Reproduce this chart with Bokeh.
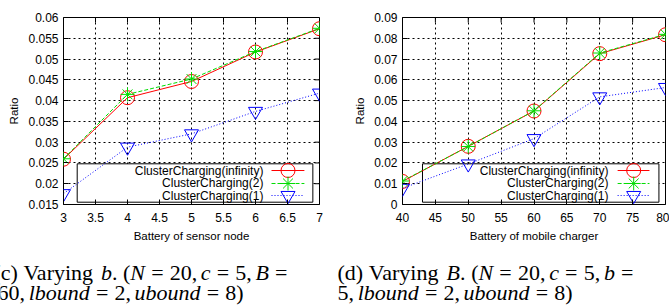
from bokeh.plotting import figure
from bokeh.layouts import row, column
from bokeh.models import Range1d, FixedTicker
from bokeh.embed import file_html
from bokeh.resources import INLINE
from bokeh.core.properties import value

# ---------------- data ----------------
series_names = ["ClusterCharging(infinity)", "ClusterCharging(2)", "ClusterCharging(1)"]

# (c) varying b (battery of sensor node)
b_sensor = [3, 4, 5, 6, 7]
ratio_inf_b = [0.0259, 0.0407, 0.0446, 0.0517, 0.0573]
ratio_2_b = [0.0260, 0.0415, 0.0452, 0.0518, 0.0574]
ratio_1_b = [0.0176, 0.0288, 0.0320, 0.0374, 0.0418]

# (d) varying B (battery of mobile charger)
B_charger = [40, 50, 60, 70, 80]
ratio_inf_B = [0.0111, 0.0280, 0.0450, 0.0726, 0.0817]
ratio_2_B = [0.0113, 0.0279, 0.0451, 0.0729, 0.0819]
ratio_1_B = [0.0078, 0.0195, 0.0317, 0.0518, 0.0563]

xticks_b = [3, 3.5, 4, 4.5, 5, 5.5, 6, 6.5, 7]
xlabels_b = ["3", "3.5", "4", "4.5", "5", "5.5", "6", "6.5", "7"]
yticks_b = [0.015, 0.02, 0.025, 0.03, 0.035, 0.04, 0.045, 0.05, 0.055, 0.06]
ylabels_b = ["0.015", "0.02", "0.025", "0.03", "0.035", "0.04", "0.045", "0.05", "0.055", "0.06"]

xticks_B = [40, 45, 50, 55, 60, 65, 70, 75, 80]
xlabels_B = ["40", "45", "50", "55", "60", "65", "70", "75", "80"]
yticks_B = [0, 0.01, 0.02, 0.03, 0.04, 0.05, 0.06, 0.07, 0.08, 0.09]
ylabels_B = ["0", "0.01", "0.02", "0.03", "0.04", "0.05", "0.06", "0.07", "0.08", "0.09"]

R, I = False, True
caption_c = [
    [[("(c)", R)], [("Varying", R)], [("b", I), (".", R)], [("(", R), ("N", I)], [("=", R)],
     [("20,", R)], [("c", I)], [("=", R)], [("5,", R)], [("B", I)], [("=", R)]],
    [[("60,", R)], [("lbound", I)], [("=", R)], [("2,", R)], [("ubound", I)], [("=", R)], [("8)", R)]],
]
caption_d = [
    [[("(d)", R)], [("Varying", R)], [("B", I), (".", R)], [("(", R), ("N", I)], [("=", R)],
     [("20,", R)], [("c", I)], [("=", R)], [("5,", R)], [("b", I)], [("=", R)]],
    [[("5,", R)], [("lbound", I)], [("=", R)], [("2,", R)], [("ubound", I)], [("=", R)], [("8)", R)]],
]
gaps_line1 = "tttmmsmmsm"
gaps_line2 = "smmsmm"

# ---------------- styling / layout ----------------
SANS = "Liberation Sans"
SERIF = "Liberation Serif"
CAP_SIZE = 22
W, H = 669, 308
TOP_H = 250
FRAME_TOP = 17
FRAME_BOTTOM = 204
FRAME_H = FRAME_BOTTOM - FRAME_TOP
TICK_LEN = 5

TIMES_R = {' ': 250, '(': 333, ')': 333, ',': 250, '.': 250, '=': 564, 'a': 444, 'c': 444,
           'd': 500, 'g': 500, 'i': 278, 'n': 500, 'r': 333, 'y': 500, 'V': 722, 'b': 500}
TIMES_I = {'b': 500, 'c': 444, 'l': 278, 'o': 500, 'u': 500, 'n': 500, 'd': 500, 'N': 667, 'B': 611}
GAP_EM = {'t': (250, 2.0), 'm': (278, 1.0), 's': (167, 0.0)}


def piece_w(txt, italic):
    tab = TIMES_I if italic else TIMES_R
    return sum(tab.get(ch, 500) for ch in txt) * CAP_SIZE / 1000.0


def caption_line(pieces, words, gaps, x_start, baseline, x_end=None):
    word_w = [sum(piece_w(t, it) for t, it in w) for w in words]
    gap_w = [GAP_EM[g][0] * CAP_SIZE / 1000.0 for g in gaps]
    weights = [GAP_EM[g][1] for g in gaps]
    natural = sum(word_w) + sum(gap_w)
    if x_end is not None and sum(weights) > 0:
        extra = max(0.0, (x_end - x_start) - natural)
        gap_w = [g + extra * wt / sum(weights) for g, wt in zip(gap_w, weights)]
    x = x_start
    for k, w in enumerate(words):
        xx = x
        for t, it in w:
            pieces[it].append((xx, baseline, t))
            xx += piece_w(t, it)
        x += word_w[k] + (gap_w[k] if k < len(gap_w) else 0)


def make_fig(xr, yr, xticks, xlabels, yticks, ylabels, xlabel, width, bl, frame_w, mirror_right):
    p = figure(width=width, height=TOP_H, x_range=Range1d(*xr), y_range=Range1d(*yr),
               output_backend="svg", toolbar_location=None, tools="",
               min_border_left=bl, min_border_right=width - bl - frame_w,
               min_border_top=FRAME_TOP, min_border_bottom=TOP_H - FRAME_BOTTOM)
    p.outline_line_color = "black"
    p.outline_line_width = 1
    p.outline_line_alpha = 1

    p.xaxis.ticker = FixedTicker(ticks=xticks)
    p.yaxis.ticker = FixedTicker(ticks=yticks)
    p.xaxis.major_label_overrides = dict(zip(xticks, xlabels))
    p.yaxis.major_label_overrides = dict(zip(yticks, ylabels))
    p.xaxis.axis_label = xlabel
    p.yaxis.axis_label = "Ratio"
    for ax in (p.xaxis[0], p.yaxis[0]):
        ax.axis_line_color = None
        ax.major_tick_in = TICK_LEN
        ax.major_tick_out = 0
        ax.major_tick_line_color = "black"
        ax.minor_tick_line_color = None
        ax.major_label_text_font = SANS
        ax.major_label_text_font_size = "12px"
        ax.major_label_text_color = "black"
        ax.axis_label_text_font = SANS
        ax.axis_label_text_font_size = "11.5px"
        ax.axis_label_text_font_style = "normal"
        ax.axis_label_text_color = "black"
        ax.axis_label_standoff = 5
    p.xaxis.major_label_standoff = 8
    p.yaxis.major_label_standoff = 5

    for g in (p.xgrid[0], p.ygrid[0]):
        g.grid_line_color = "black"
        g.grid_line_dash = "2 3"
        g.grid_line_width = 1
        g.level = "image"

    # mirrored inward ticks (top, and right when visible)
    x0, x1 = xr
    y0, y1 = yr
    dy = TICK_LEN * (y1 - y0) / FRAME_H
    p.segment(x0=xticks, x1=xticks, y0=[y1] * len(xticks), y1=[y1 - dy] * len(xticks),
              line_color="black", line_width=1)
    if mirror_right:
        dx = TICK_LEN * (x1 - x0) / frame_w
        p.segment(x0=[x1] * len(yticks), x1=[x1 - dx] * len(yticks), y0=yticks, y1=yticks,
                  line_color="black", line_width=1)
    return p


STYLES = [
    dict(color="#ff0000", dash="solid", marker="circle"),
    dict(color="#00dd00", dash="4 2", marker="asterisk"),
    dict(color="#0000ff", dash="1 2", marker="inverted_triangle"),
]


def add_series(p, xs, ys_list):
    for ys, st in zip(ys_list, STYLES):
        p.line(xs, ys, line_color=st["color"], line_dash=st["dash"], line_width=1)
        p.scatter(xs, ys, marker=st["marker"], size=14, line_color=st["color"],
                  fill_color=None, line_width=1)


def add_legend(p, xr, yr, box, text_r, samp, mark):
    x0, x1 = xr
    y0, y1 = yr
    fx = lambda f: x0 + f * (x1 - x0)
    fy = lambda f: y0 + f * (y1 - y0)
    rows = [0.1818, 0.1123, 0.0481]
    p.quad(left=[fx(box[0])], right=[fx(box[1])], bottom=[fy(0.0123)], top=[fy(0.2176)],
           fill_color="white", line_color="black", line_width=1, level="underlay")
    p.text(x=[fx(text_r)] * 3, y=[fy(r) for r in rows], text=series_names,
           text_align="right", text_baseline="middle", text_font=value(SANS),
           text_font_size="12px", text_color="black")
    for r, st in zip(rows, STYLES):
        p.segment(x0=[fx(samp[0])], x1=[fx(samp[1])], y0=[fy(r)], y1=[fy(r)],
                  line_color=st["color"], line_dash=st["dash"], line_width=1)
        p.scatter([fx(mark)], [fy(r)], marker=st["marker"], size=14, line_color=st["color"],
                  fill_color=None, line_width=1)


# left figure: frame x 63..319
p1 = make_fig((3, 7), (0.015, 0.06), xticks_b, xlabels_b, yticks_b, ylabels_b,
              "Battery of sensor node", 336, 63, 256, True)
add_series(p1, b_sensor, [ratio_inf_b, ratio_2_b, ratio_1_b])
add_legend(p1, (3, 7), (0.015, 0.06), (0.0535, 0.974), 0.781, (0.8125, 0.941), 0.877)

# right figure: frame x 402..665
p2 = make_fig((40, 80), (0, 0.09), xticks_B, xlabels_B, yticks_B, ylabels_B,
              "Battery of mobile charger", 333, 66, 263, False)
add_series(p2, B_charger, [ratio_inf_B, ratio_2_B, ratio_1_B])
add_legend(p2, (40, 80), (0, 0.09), (0.076, 0.975), 0.783, (0.818, 0.939), 0.879)

# captions strip (pixel-coordinate canvas)
p3 = figure(width=W, height=H - TOP_H, x_range=Range1d(0, W), y_range=Range1d(H, TOP_H),
            output_backend="svg", toolbar_location=None, tools="",
            x_axis_location=None, y_axis_location=None, min_border=0)
p3.outline_line_color = None
p3.grid.visible = False
pieces = {R: [], I: []}
caption_line(pieces, caption_c[0], gaps_line1, -7.0, 272, x_end=283)
caption_line(pieces, caption_c[1], gaps_line2, -3.0, 292)
caption_line(pieces, caption_d[0], gaps_line1, 337, 272, x_end=633)
caption_line(pieces, caption_d[1], gaps_line2, 337, 292)
for it, lst in pieces.items():
    p3.text(x=[a for a, b, c in lst], y=[b for a, b, c in lst], text=[c for a, b, c in lst],
            text_font=value(SERIF), text_font_size=f"{CAP_SIZE}px",
            text_font_style=value("italic" if it else "normal"),
            text_align="left", text_baseline="alphabetic", text_color="black")

layout = column(row(p1, p2), p3)
open("out.html", "w").write(file_html(layout, INLINE))
